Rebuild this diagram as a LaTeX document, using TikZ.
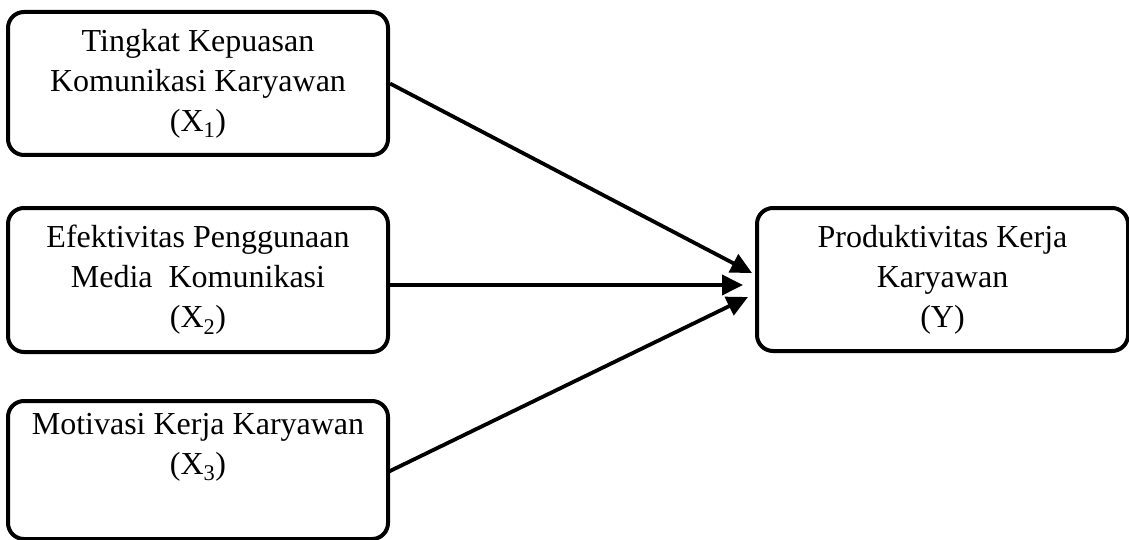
\documentclass[tikz,border=0pt]{standalone}
\usepackage{fontspec}
\setmainfont{Liberation Serif}
\usetikzlibrary{arrows.meta}
\begin{document}
\begin{tikzpicture}[x=1pt,y=-1pt,
  box/.style={draw=black,line width=4pt,rounded corners=16pt,fill=white,
    align=center,inner sep=0pt,font=\fontsize{32}{40}\selectfont},
  conn/.style={line width=3.8pt,-{Triangle[length=21pt,width=20pt]}}]
\useasboundingbox (0,0) rectangle (1129,540);
\node[box,minimum width=380pt,minimum height=143pt] (x1) at (198,83.5)
  {Tingkat Kepuasan\\Komunikasi Karyawan\\(X\textsubscript{1})};
\node[box,minimum width=380pt,minimum height=144pt] (x2) at (198,280)
  {Efektivitas Penggunaan\\Media\ \ Komunikasi\\(X\textsubscript{2})};
\node[box,minimum width=380pt,minimum height=138pt] (x3) at (198,470)
  {Motivasi Kerja Karyawan\\(X\textsubscript{3})\\\strut};
\node[box,minimum width=371pt,minimum height=143pt] (y) at (942.5,279.5)
  {Produktivitas Kerja\\Karyawan\\(Y)};
\coordinate (t1) at (752,273);
\coordinate (t2) at (743,285);
\coordinate (t3) at (748,297);
\coordinate (s2) at (388,285);
\coordinate (s3) at (388,472);
\draw[conn] (x1.east) -- (t1);
\draw[conn] (s2) -- (t2);
\draw[conn] (s3) -- (t3);
\end{tikzpicture}
\end{document}
